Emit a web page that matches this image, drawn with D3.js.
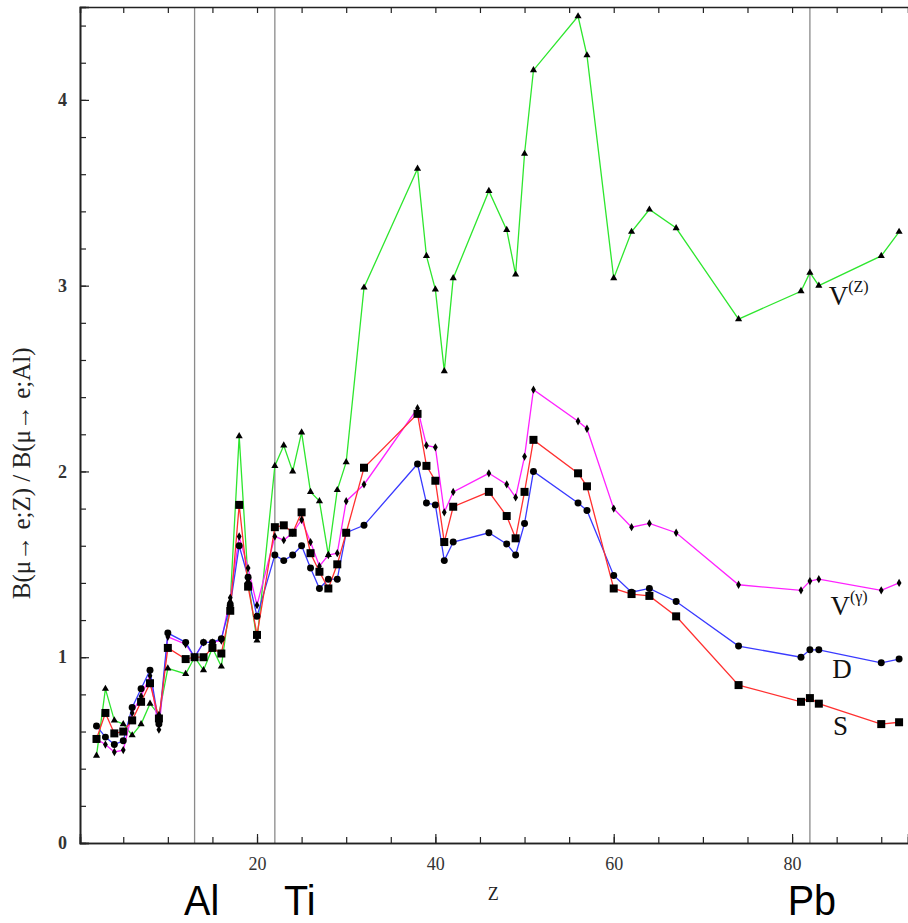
<!DOCTYPE html>
<html>
<head>
<meta charset="utf-8">
<script src="https://cdn.jsdelivr.net/npm/d3@7"></script>
<style>
  body { margin: 0; background: #fff; }
  svg { display: block; }
</style>
</head>
<body>
<svg id="chart" width="908" height="923"></svg>
<script>
// nuclei (atomic number Z) used in the plot
const zValues = [2,3,4,5,6,7,8,9,10, 12,13,14,15,16,17,18,19,20, 22,23,24,25,26,27,28,29,30, 32,
  38,39,40,41,42, 46,48,49,50,51, 56,57, 60,62,64,67, 74, 81,82,83, 90,92]

// B(mu->e;Z)/B(mu->e;Al) for each model
const vZ = [0.47,0.83,0.66,0.64,0.58,0.64,0.75,0.69,0.94, 0.91,1.00,0.93,1.05,0.95,1.30,2.19,1.41,1.09,
  2.03,2.14,2.00,2.21,1.89,1.84,1.55,1.90,2.05, 2.99, 3.63,3.16,2.98,2.54,3.04, 3.51,3.30,3.06,3.71,4.16,
  4.45,4.24, 3.04,3.29,3.41,3.31, 2.82, 2.97,3.07,3.00, 3.16,3.29]
const vGamma = [0.56,0.53,0.49,0.50,0.70,0.79,0.90,0.61,1.11, 1.07,1.00,1.08,1.08,1.09,1.32,1.65,1.48,1.28,
  1.65,1.63,1.67,1.74,1.62,1.49,1.55,1.56,1.84, 1.93, 2.34,2.14,2.13,1.78,1.89, 1.99,1.93,1.86,2.08,2.44,
  2.27,2.23, 1.80,1.70,1.72,1.67, 1.39, 1.36,1.41,1.42, 1.36,1.40]
const dipole = [0.63,0.57,0.53,0.55,0.73,0.83,0.93,0.64,1.13, 1.08,1.00,1.08,1.08,1.10,1.28,1.60,1.43,1.22,
  1.55,1.52,1.55,1.60,1.48,1.37,1.42,1.42,1.67, 1.71, 2.04,1.83,1.82,1.52,1.62, 1.67,1.61,1.55,1.72,2.00,
  1.83,1.79, 1.44,1.35,1.37,1.30, 1.06, 1.00,1.04,1.04, 0.97,0.99]
const scalar = [0.56,0.70,0.59,0.60,0.66,0.76,0.86,0.67,1.05, 0.99,1.00,1.00,1.05,1.02,1.25,1.82,1.38,1.12,
  1.70,1.71,1.67,1.78,1.56,1.46,1.37,1.50,1.67, 2.02, 2.31,2.03,1.95,1.62,1.81, 1.89,1.76,1.64,1.89,2.17,
  1.99,1.92, 1.37,1.34,1.33,1.22, 0.85, 0.76,0.78,0.75, 0.64,0.65]

const xTickLabels = [20, 40, 60, 80]
const yTickLabels = [0, 1, 2, 3, 4]
const elements = ["Al", "Ti", "Pb"]
const elementZ = [13, 22, 82]

const series = [
  { key: "VZ", values: vZ, color: "#2ee62e", symbol: d3.symbolTriangle, size: 22 },
  { key: "Vg", values: vGamma, color: "#ff22ff", symbol: d3.symbolDiamond, size: 20 },
  { key: "D", values: dipole, color: "#3a3aff", symbol: d3.symbolCircle, size: 38 },
  { key: "S", values: scalar, color: "#ff3030", symbol: d3.symbolSquare, size: 64 }
]

const svg = d3.select("#chart")

const x = d3.scaleLinear().domain([0.15, 93]).range([80, 908])
const y = d3.scaleLinear().domain([0, 4.5]).range([843, 7])

const serif = "'Liberation Serif', 'Times New Roman', serif"

// reference element lines
svg.selectAll(".elem")
  .data(elementZ)
  .join("line")
  .attr("x1", d => x(d)).attr("x2", d => x(d))
  .attr("y1", y(4.5)).attr("y2", y(0))
  .attr("stroke", "#8a8a8a")
  .attr("stroke-width", 1.3)

// axes: bottom + top, left
const xAxis = d3.axisBottom(x).tickValues(d3.range(5, 93, 5)).tickSize(-6).tickFormat("")
svg.append("g").attr("transform", `translate(0,${y(0)})`).call(xAxis)
svg.append("g").attr("transform", `translate(0,${y(0)})`)
  .call(d3.axisBottom(x).tickValues(xTickLabels).tickSize(-9).tickPadding(14).tickFormat(d3.format("d")))
  .call(g => g.selectAll("text").attr("font-family", serif).attr("font-size", 18).attr("fill", "#333"))
svg.append("g").attr("transform", `translate(0,${y(4.5)})`)
  .call(d3.axisTop(x).tickValues(d3.range(5, 93, 5)).tickSize(-6).tickFormat(""))

svg.append("g").attr("transform", `translate(${x(0.15)},0)`)
  .call(d3.axisLeft(y).tickValues(d3.range(0.2, 4.5, 0.2)).tickSize(-6).tickFormat(""))
svg.append("g").attr("transform", `translate(${x(0.15)},0)`)
  .call(d3.axisLeft(y).tickValues(yTickLabels).tickSize(-9).tickPadding(13).tickFormat(d3.format("d")))
  .call(g => g.selectAll("text").attr("font-family", serif).attr("font-size", 18).attr("font-weight", "bold").attr("fill", "#333"))

svg.selectAll(".domain").attr("stroke", "#222").attr("stroke-width", 1.6)
svg.selectAll(".tick line").attr("stroke", "#222").attr("stroke-width", 1.2)

// series lines
const line = d3.line().x(d => x(d[0])).y(d => y(d[1]))
series.forEach(s => {
  svg.append("path")
    .datum(zValues.map((z, i) => [z, s.values[i]]))
    .attr("fill", "none")
    .attr("stroke", s.color)
    .attr("stroke-width", 1.3)
    .attr("d", line)
})

// markers
series.forEach(s => {
  svg.append("g").selectAll("path")
    .data(zValues.map((z, i) => [z, s.values[i]]))
    .join("path")
    .attr("transform", d => `translate(${x(d[0])},${y(d[1])})`)
    .attr("d", d3.symbol().type(s.symbol).size(s.size))
    .attr("fill", "#000")
})

// series labels
const lab = svg.append("g").attr("font-family", serif).attr("fill", "#111")
function seriesLabel(px, py, main, sup) {
  const t = lab.append("text").attr("x", px).attr("y", py).attr("font-size", 27).text(main)
  if (sup) t.append("tspan").attr("dy", -13).attr("font-size", 16).text(sup)
}
seriesLabel(x(84.1), 305, "V", "(Z)")
seriesLabel(x(84.3), 615, "V", "(γ)")
seriesLabel(x(84.5), 678, "D")
seriesLabel(x(84.6), 735, "S")

// axis titles
svg.append("text")
  .attr("x", x(46.5)).attr("y", 900)
  .attr("text-anchor", "middle")
  .attr("font-family", serif).attr("font-size", 18).attr("fill", "#222")
  .text("Z")

svg.append("text")
  .attr("transform", `translate(30,${y(1.99)}) rotate(-90)`)
  .attr("text-anchor", "middle")
  .attr("font-family", serif).attr("font-size", 25).attr("fill", "#222")
  .text("B(μ→ e;Z) / B(μ→ e;Al)")

// element names under the axis (the labels sit a little right of their lines)
const nameShift = { Al: 7, Ti: 25, Pb: 2 }
svg.selectAll(".ename")
  .data(elements)
  .join("text")
  .attr("transform", (d, i) => `translate(${x(elementZ[i]) + nameShift[d]},915) scale(0.92,1)`)
  .attr("text-anchor", "middle")
  .attr("font-family", "'Liberation Sans', Arial, sans-serif")
  .attr("font-size", 43)
  .attr("fill", "#000")
  .text(d => d)
</script>
</body>
</html>
